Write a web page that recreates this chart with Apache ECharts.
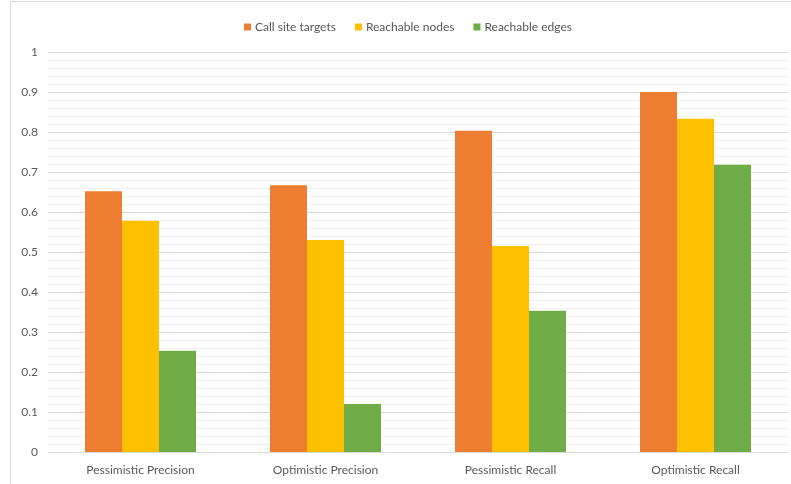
<!DOCTYPE html>
<html>
<head>
<meta charset="utf-8">
<script src="https://cdn.jsdelivr.net/npm/echarts@6/dist/echarts.min.js"></script>
<style>
html,body{margin:0;padding:0;background:#fff;}
#chart{width:791px;height:484px;}
</style>
</head>
<body>
<div id="chart"></div>
<script>
const categories = ['Pessimistic Precision', 'Optimistic Precision', 'Pessimistic Recall', 'Optimistic Recall'];
const seriesNames = ['Call site targets', 'Reachable nodes', 'Reachable edges'];
const callSiteTargets = [0.652, 0.667, 0.803, 0.900];
const reachableNodes = [0.578, 0.530, 0.515, 0.833];
const reachableEdges = [0.253, 0.120, 0.353, 0.718];
const colors = ['#ED7D31', '#FFC000', '#70AD47'];

const chart = echarts.init(document.getElementById('chart'), null, {renderer: 'canvas'});
const font = 'Lato, "Open Sans", sans-serif';
const dataSets = [callSiteTargets, reachableNodes, reachableEdges];
chart.setOption({
  animation: false,
  color: colors,
  textStyle: {fontFamily: font},
  graphic: [{
    type: 'polyline',
    shape: {points: [[10.5, 484], [10.5, 1.5], [791, 1.5]]},
    style: {stroke: '#d9d9d9', fill: null, lineWidth: 1},
    silent: true
  }],
  legend: {
    top: 16,
    left: 239,
    itemWidth: 7,
    itemHeight: 7,
    itemGap: 19,
    icon: 'rect',
    textStyle: {color: '#595959', fontSize: 12, fontFamily: font, padding: [0, 0, 0, -1]},
    data: seriesNames
  },
  grid: {left: 48, right: 3, top: 52, bottom: 32, containLabel: false},
  xAxis: {
    type: 'category',
    data: categories,
    axisLine: {show: true, lineStyle: {color: '#d9d9d9', width: 1}},
    axisTick: {show: false},
    axisLabel: {color: '#595959', fontSize: 12, margin: 12, fontFamily: font},
    splitLine: {show: false}
  },
  yAxis: {
    type: 'value',
    min: 0,
    max: 1,
    interval: 0.1,
    axisLine: {show: false},
    axisTick: {show: false},
    axisLabel: {color: '#595959', fontSize: 12, margin: 10, fontFamily: font},
    splitLine: {show: true, lineStyle: {color: '#d9d9d9', width: 1}},
    minorTick: {show: false, splitNumber: 5},
    minorSplitLine: {show: true, lineStyle: {color: '#f0f0f0', width: 1}}
  },
  series: seriesNames.map((name, i) => ({
    name: name,
    type: 'bar',
    data: dataSets[i],
    barGap: '0%',
    barCategoryGap: '40%',
    itemStyle: {color: colors[i]}
  }))
});
</script>
</body>
</html>
